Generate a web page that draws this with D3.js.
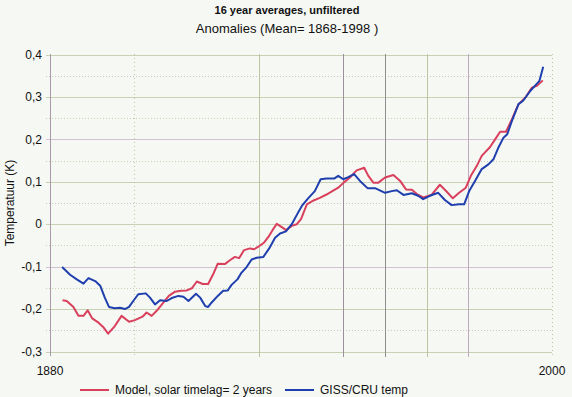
<!DOCTYPE html>
<html>
<head>
<meta charset="utf-8">
<script src="https://cdn.jsdelivr.net/npm/d3@7"></script>
<style>
  body { margin: 0; background: #f6f8f4; }
  svg { display: block; font-family: "Liberation Sans", Arial, sans-serif; }
</style>
</head>
<body>
<div id="chart"></div>
<script>
// years and anomalies
const modelYears = [1883, 1884, 1885.6, 1886.8, 1888, 1889, 1890.1, 1891.6, 1892.7, 1893.9,
  1895.5, 1897.1, 1898.9, 1900.3, 1902.1, 1903.1, 1904.3, 1905.5, 1907.1, 1908.4,
  1909.9, 1911.3, 1912.7, 1913.9, 1915.1, 1916.5, 1917.8, 1919, 1920.1, 1921.8,
  1923, 1924.2, 1925.2, 1926.4, 1927.8, 1928.8, 1929.8, 1931.2, 1932.2, 1933.2,
  1934.2, 1935.6, 1936.4, 1937.8, 1939, 1940, 1941.4, 1943, 1944.5, 1946.1,
  1947.7, 1948.9, 1950.2, 1951.7, 1953.3, 1955.1, 1956.1, 1957.3, 1958.5, 1960.1,
  1962.1, 1963.7, 1965.1, 1966.5, 1967.7, 1969.2, 1971.2, 1973.2, 1974.8, 1976.3,
  1977.8, 1979.4, 1980.6, 1982, 1983.2, 1985.2, 1986.4, 1987.6, 1989, 1990.4,
  1992, 1993.6, 1995.2, 1996.4, 1997.8];
const modelValues = [-0.179, -0.181, -0.195, -0.216, -0.216, -0.203, -0.222, -0.232, -0.242, -0.258,
  -0.240, -0.216, -0.230, -0.226, -0.218, -0.208, -0.216, -0.204, -0.185, -0.169,
  -0.159, -0.157, -0.156, -0.151, -0.135, -0.141, -0.141, -0.118, -0.093, -0.094,
  -0.085, -0.077, -0.080, -0.061, -0.057, -0.059, -0.053, -0.043, -0.030, -0.014,
  0.001, -0.008, -0.014, -0.004, 0.000, 0.012, 0.047, 0.056, 0.062, 0.070,
  0.079, 0.086, 0.098, 0.110, 0.127, 0.133, 0.114, 0.098, 0.098, 0.110,
  0.116, 0.102, 0.082, 0.081, 0.071, 0.063, 0.069, 0.093, 0.077, 0.061,
  0.074, 0.086, 0.114, 0.137, 0.161, 0.182, 0.200, 0.218, 0.218, 0.247,
  0.283, 0.298, 0.322, 0.326, 0.339];

const gissYears = [1882.9, 1884.8, 1886.4, 1888, 1889.2, 1890.8, 1892, 1893.1, 1894.1, 1895.5,
  1896.7, 1897.9, 1898.9, 1899.9, 1901.1, 1902.9, 1903.9, 1905.1, 1906.3, 1907.9,
  1909.1, 1910.7, 1911.9, 1913.1, 1914.9, 1915.9, 1917.1, 1917.8, 1918.6, 1920.1,
  1921.4, 1922.5, 1923.4, 1924.8, 1925.8, 1927, 1928.2, 1929.4, 1931, 1932.4,
  1933.8, 1935, 1936.4, 1937.8, 1939, 1940.2, 1941.7, 1943.3, 1944.7, 1946.1,
  1948, 1948.9, 1950.1, 1951.3, 1952.7, 1954.1, 1955.9, 1957.7, 1960.1, 1961.7,
  1962.9, 1964.5, 1966.5, 1968, 1969.2, 1970.8, 1972.8, 1974.4, 1976, 1977.8,
  1979, 1980.2, 1981.6, 1983.2, 1984.8, 1986, 1987.2, 1988.4, 1989.3, 1990.4,
  1992, 1993.1, 1994.8, 1995.9, 1997, 1997.9];
const gissValues = [-0.101, -0.119, -0.130, -0.140, -0.127, -0.134, -0.145, -0.173, -0.195, -0.198,
  -0.197, -0.200, -0.195, -0.181, -0.165, -0.163, -0.173, -0.189, -0.179, -0.181,
  -0.174, -0.169, -0.171, -0.181, -0.164, -0.173, -0.193, -0.195, -0.185, -0.169,
  -0.157, -0.156, -0.143, -0.130, -0.114, -0.101, -0.083, -0.079, -0.077, -0.057,
  -0.032, -0.022, -0.017, 0.000, 0.022, 0.043, 0.061, 0.078, 0.106, 0.108,
  0.108, 0.114, 0.106, 0.111, 0.118, 0.102, 0.085, 0.085, 0.074, 0.078,
  0.080, 0.069, 0.073, 0.067, 0.059, 0.067, 0.074, 0.057, 0.045, 0.047,
  0.047, 0.078, 0.102, 0.130, 0.141, 0.153, 0.181, 0.204, 0.212, 0.243,
  0.283, 0.291, 0.314, 0.326, 0.338, 0.371];

const yTicks = [0.4, 0.3, 0.2, 0.1, 0, -0.1, -0.2, -0.3];
const xLabels = [1880, 2000];
const gridYears = [1900, 1930, 1950, 1960, 1970, 1980, 2000];
const seriesNames = ["Model, solar timelag= 2 years", "GISS/CRU temp"];

const width = 572, height = 397;
const svg = d3.select("#chart").append("svg")
    .attr("width", width)
    .attr("height", height);

svg.append("rect").attr("width", width).attr("height", height).attr("fill", "#f6f8f4");

const x = d3.scaleLinear().domain([1880, 2000]).range([50, 552]);
const y = d3.scaleLinear().domain([-0.3, 0.4]).range([351.5, 54.5]);

// titles
svg.append("text")
    .attr("x", 287).attr("y", 14)
    .attr("text-anchor", "middle")
    .attr("font-size", "11px").attr("font-weight", "bold")
    .attr("fill", "#111")
    .text("16 year averages, unfiltered");
svg.append("text")
    .attr("x", 287).attr("y", 33)
    .attr("text-anchor", "middle")
    .attr("font-size", "13px")
    .attr("fill", "#111")
    .text("Anomalies (Mean= 1868-1998 )");

// horizontal grid, every 0.05
const hGrid = d3.range(-6, 9).map(d => d * 0.05);
svg.append("g").selectAll("line")
    .data(hGrid)
    .join("line")
    .attr("x1", 46).attr("x2", 552)
    .attr("y1", d => Math.round(y(d)) + 0.5)
    .attr("y2", d => Math.round(y(d)) + 0.5)
    .attr("stroke", (d, i) => i % 3 == 1 ? "#d4c2d4" : "#c8d1b4")
    .attr("stroke-width", 1)
    .attr("stroke-dasharray", (d, i) => i % 2 == 0 ? null : "1,2");

// vertical grid
svg.append("g").selectAll("line")
    .data(gridYears)
    .join("line")
    .attr("x1", d => Math.round(x(d)) + 0.5)
    .attr("x2", d => Math.round(x(d)) + 0.5)
    .attr("y1", 54).attr("y2", 357)
    .attr("stroke", d => d == 1950 ? "#9c909c" : d == 1960 ? "#8e8e8e" : (d == 1980 ? "#c0a8c0" : "#bcc4a4"))
    .attr("stroke-dasharray", d => (d == 1900 || d == 2000) ? "1,3" : null);

// y axis line
svg.append("line")
    .attr("x1", 50.5).attr("x2", 50.5)
    .attr("y1", 54).attr("y2", 356)
    .attr("stroke", "#a898a8");

// y tick labels
const fmt = d => d == 0 ? "0" : d3.format(".1f")(d).replace(".", ",").replace("−", "-");
svg.append("g").selectAll("text")
    .data(yTicks)
    .join("text")
    .attr("x", 42).attr("y", d => y(d))
    .attr("dy", "0.35em")
    .attr("text-anchor", "end")
    .attr("font-size", "12px")
    .attr("fill", "#111")
    .text(fmt);

svg.append("text")
    .attr("transform", "translate(14,203) rotate(-90)")
    .attr("text-anchor", "middle")
    .attr("font-size", "12px")
    .attr("fill", "#111")
    .text("Temperatuur (K)");

// x labels
svg.append("g").selectAll("text")
    .data(xLabels)
    .join("text")
    .attr("x", d => x(d)).attr("y", 375)
    .attr("text-anchor", "middle")
    .attr("font-size", "12px")
    .attr("fill", "#111")
    .text(d => d);

// lines
const line = d3.line()
    .x(d => x(d[0]))
    .y(d => y(d[1]));

const series = [
    {name: seriesNames[0], color: "#d9405c", data: d3.zip(modelYears, modelValues)},
    {name: seriesNames[1], color: "#1f3fae", data: d3.zip(gissYears, gissValues)}
];

svg.append("g").selectAll("path")
    .data(series)
    .join("path")
    .attr("d", d => line(d.data))
    .attr("fill", "none")
    .attr("stroke", d => d.color)
    .attr("stroke-width", 2)
    .attr("stroke-linejoin", "round");

// legend
const legendX = [80, 285];
const legend = svg.append("g").selectAll("g")
    .data(series)
    .join("g")
    .attr("transform", (d, i) => "translate(" + legendX[i] + ",390)");
legend.append("line")
    .attr("x1", 0).attr("x2", 29)
    .attr("stroke", d => d.color)
    .attr("stroke-width", 2);
legend.append("text")
    .attr("x", 35).attr("dy", "0.35em")
    .attr("font-size", "12px")
    .attr("fill", "#111")
    .text(d => d.name);
</script>
</body>
</html>
